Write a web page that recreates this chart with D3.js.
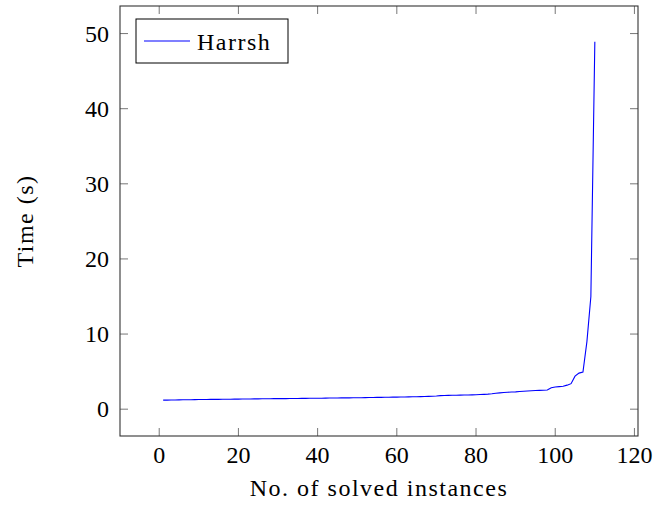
<!DOCTYPE html>
<meta charset="utf-8">
<style>
body { margin: 0; background: #fff; }
svg { display: block; }
.label { letter-spacing: 1.5px; }
.frame { fill: none; stroke: #333; stroke-width: 1.1px; }
.tick line { stroke: #777; stroke-width: 1px; }
.curve { fill: none; stroke: #0000ff; stroke-width: 1.1px; }
</style>
<svg id="chart" width="655" height="510"></svg>
<script src="https://d3js.org/d3.v7.min.js"></script>
<script>
var seriesName = "Harrsh";
var xLabel = "No. of solved instances";
var yLabel = "Time (s)";
var xTicks = [0, 20, 40, 60, 80, 100, 120];
var yTicks = [0, 10, 20, 30, 40, 50];

// time (s) of the n-th solved instance, n = 1..110
var times = [
    1.20, 1.21, 1.22, 1.23, 1.24, 1.25, 1.25, 1.26, 1.27, 1.28,
    1.28, 1.29, 1.30, 1.30, 1.31, 1.32, 1.32, 1.33, 1.34, 1.34,
    1.35, 1.35, 1.36, 1.37, 1.37, 1.38, 1.38, 1.39, 1.40, 1.40,
    1.41, 1.41, 1.42, 1.42, 1.43, 1.44, 1.44, 1.45, 1.45, 1.46,
    1.46, 1.47, 1.48, 1.48, 1.49, 1.50, 1.50, 1.51, 1.52, 1.53,
    1.53, 1.54, 1.55, 1.56, 1.57, 1.57, 1.58, 1.59, 1.60, 1.61,
    1.62, 1.63, 1.64, 1.65, 1.66, 1.67, 1.68, 1.70, 1.72, 1.75,
    1.80, 1.82, 1.84, 1.85, 1.86, 1.87, 1.88, 1.89, 1.90, 1.92,
    1.95, 1.97, 2.00, 2.05, 2.12, 2.17, 2.22, 2.25, 2.28, 2.30,
    2.35, 2.38, 2.42, 2.45, 2.48, 2.50, 2.52, 2.55, 2.85, 2.95,
    3.00, 3.05, 3.20, 3.40, 4.40, 4.80, 4.95, 9.00, 15.00, 48.90
];

var data = times.map(function(t, i) { return [i + 1, t]; });

var fontFamily = "'Liberation Serif', 'Times New Roman', serif";
var svg = d3.select("#chart");
var plotL = 120, plotR = 638, plotT = 6, plotB = 436;

var x = d3.scaleLinear().domain([-9.9, 120.9]).range([plotL, plotR]);
var y = d3.scaleLinear().domain([-3.57, 53.67]).range([plotB, plotT]);
var tickLen = 8;

function label(sel) {
    return sel.style("font-family", fontFamily).style("font-size", "24px").attr("fill", "#000");
}

// ticks, drawn inside on both sides
var g = svg.append("g");
g.selectAll(".xt").data(xTicks).enter().append("g").attr("class", "tick")
  .each(function(d) {
      var s = d3.select(this);
      s.append("line").attr("x1", x(d)).attr("x2", x(d)).attr("y1", plotB).attr("y2", plotB - tickLen);
      s.append("line").attr("x1", x(d)).attr("x2", x(d)).attr("y1", plotT).attr("y2", plotT + tickLen);
      label(s.append("text")).attr("x", x(d)).attr("y", 463)
       .attr("text-anchor", "middle").text(d);
  });
g.selectAll(".yt").data(yTicks).enter().append("g").attr("class", "tick")
  .each(function(d) {
      var s = d3.select(this);
      s.append("line").attr("y1", y(d)).attr("y2", y(d)).attr("x1", plotL).attr("x2", plotL + tickLen);
      s.append("line").attr("y1", y(d)).attr("y2", y(d)).attr("x1", plotR).attr("x2", plotR - tickLen);
      label(s.append("text")).attr("x", plotL - 11).attr("y", y(d) + 8)
       .attr("text-anchor", "end").text(d);
  });

svg.append("path").datum(data).attr("class", "curve")
   .attr("d", d3.line().x(function(d) { return x(d[0]); }).y(function(d) { return y(d[1]); }));

svg.append("rect").attr("class", "frame")
   .attr("x", plotL).attr("y", plotT).attr("width", plotR - plotL).attr("height", plotB - plotT);

// axis labels
label(svg.append("text")).attr("class", "label").attr("x", (plotL + plotR) / 2).attr("y", 496)
   .attr("text-anchor", "middle").text(xLabel);
label(svg.append("text")).attr("class", "label")
   .attr("transform", "translate(33," + ((plotT + plotB) / 2) + ") rotate(-90)")
   .attr("text-anchor", "middle").text(yLabel);

// legend
var lg = svg.append("g");
lg.append("rect").attr("x", 136).attr("y", 19).attr("width", 152).attr("height", 44)
  .attr("fill", "#fff").attr("stroke", "#000").attr("stroke-width", 1);
lg.append("line").attr("x1", 144).attr("x2", 190).attr("y1", 41).attr("y2", 41)
  .attr("stroke", "#0000ff").attr("stroke-width", 1.1);
label(lg.append("text")).attr("class", "label").attr("x", 197).attr("y", 50).text(seriesName);
</script>
